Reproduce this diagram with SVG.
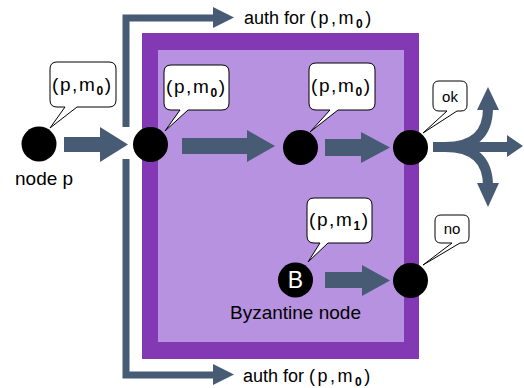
<svg xmlns="http://www.w3.org/2000/svg" width="524" height="388" viewBox="0 0 524 388">
<style>
.t{font-family:"Liberation Sans",Arial,sans-serif;fill:#000}
.lbl{font-size:18px}
.tup{font-size:19px;letter-spacing:1.6px}
.sub{font-size:12px;font-weight:bold}
.call{fill:#fff;stroke:#000;stroke-width:1}
.node{fill:#000}
.arr{fill:#475b75}
.ln{fill:none;stroke:#475b75;stroke-width:7}
</style>
<g id="byzantine-region">
<rect x="142" y="33" width="277" height="326" fill="#8439b4"/>
<rect x="158" y="50" width="246" height="292" fill="#b792e0"/>
</g>
<g id="connectors">
<path class="ln" d="M126,127 V18 H214"/>
<path class="arr" d="M213,7 L234,17.5 L213,28 Z"/>
<path class="ln" d="M126,159 V375 H214"/>
<path class="arr" d="M213,364 L234,374.5 L213,385 Z"/>
<path class="arr" d="M64,137 H100 V127 L128,144.5 L100,162 V152 H64 Z"/>
<path class="arr" d="M182,138 H247 V130 L275,146 L247,162 V154 H182 Z"/>
<path class="arr" d="M325,139 H361 V132 L390,147.5 L361,163 V156 H325 Z"/>
<path class="arr" d="M325,272 H362 V265 L390,280.5 L362,296 V288 H325 Z"/>
<path fill="none" stroke="#475b75" stroke-width="10" d="M433,147 H508"/>
<path class="arr" d="M507,135 L523,146 L507,157 Z"/>
<path fill="none" stroke="#475b75" stroke-width="10" d="M445,147 Q488,147 488,108"/>
<path class="arr" d="M477,110 L488,87 L499,110 Z"/>
<path fill="none" stroke="#475b75" stroke-width="10" d="M445,147 Q488,147 488,186"/>
<path class="arr" d="M477,183 L488,207 L499,183 Z"/>
</g>
<g id="node-p">
<circle class="node" cx="39" cy="144" r="17.5"/>
<path class="call" d="M57,62 H109 Q116,62 116,69 V100 Q116,107 109,107 H77 L50,128 L65,107 H57 Q50,107 50,100 V69 Q50,62 57,62 Z"/>
<text class="t tup" x="52" y="91">(p,m<tspan class="sub" dy="4">0</tspan><tspan dy="-4">)</tspan></text>
<text class="t" x="15" y="185" font-size="19">node p</text>
</g>
<g id="node-2">
<circle class="node" cx="150.5" cy="144.5" r="17.5"/>
<path class="call" d="M171,65 H222 Q229,65 229,72 V103 Q229,110 222,110 H188 L165,131 L180,110 H171 Q164,110 164,103 V72 Q164,65 171,65 Z"/>
<text class="t tup" x="166" y="93">(p,m<tspan class="sub" dy="4">0</tspan><tspan dy="-4">)</tspan></text>
</g>
<g id="node-3">
<circle class="node" cx="300.5" cy="147.5" r="17.5"/>
<path class="call" d="M316,63 H368 Q375,63 375,70 V103 Q375,110 368,110 H338 L310,132 L330,110 H316 Q309,110 309,103 V70 Q309,63 316,63 Z"/>
<text class="t tup" x="311" y="92">(p,m<tspan class="sub" dy="4">0</tspan><tspan dy="-4">)</tspan></text>
</g>
<g id="node-4">
<circle class="node" cx="410.5" cy="147.5" r="17.5"/>
<path class="call" d="M439,81 H461 Q467,81 467,87 V105 Q467,111 461,111 H457 L423,133 L447,111 H439 Q433,111 433,105 V87 Q433,81 439,81 Z"/>
<text class="t" x="450" y="102" font-size="15" text-anchor="middle">ok</text>
</g>
<g id="node-b">
<circle class="node" cx="295.5" cy="280" r="17.5"/>
<text x="295.5" y="288" font-family="'Liberation Sans',Arial,sans-serif" font-size="23" fill="#fff" text-anchor="middle">B</text>
<path class="call" d="M314,198 H365 Q372,198 372,205 V236 Q372,243 365,243 H328 L308,262 L320,243 H314 Q307,243 307,236 V205 Q307,198 314,198 Z"/>
<text class="t tup" x="309" y="226">(p,m<tspan class="sub" dy="4">1</tspan><tspan dy="-4">)</tspan></text>
<text class="t" x="295.5" y="319" font-size="19" text-anchor="middle">Byzantine node</text>
</g>
<g id="node-no">
<circle class="node" cx="410.5" cy="280.5" r="17.5"/>
<path class="call" d="M441,215 H463 Q469,215 469,221 V237 Q469,243 463,243 H460 L423,265 L452,243 H441 Q435,243 435,237 V221 Q435,215 441,215 Z"/>
<text class="t" x="452" y="234" font-size="15" text-anchor="middle">no</text>
</g>
<g id="auth-labels">
<text class="t lbl" x="244" y="24">auth for <tspan letter-spacing="2.5">(p,m<tspan class="sub" dy="4">0</tspan><tspan dy="-4">)</tspan></tspan></text>
<text class="t lbl" x="243" y="382">auth for <tspan letter-spacing="2.5">(p,m<tspan class="sub" dy="4">0</tspan><tspan dy="-4">)</tspan></tspan></text>
</g>
</svg>
